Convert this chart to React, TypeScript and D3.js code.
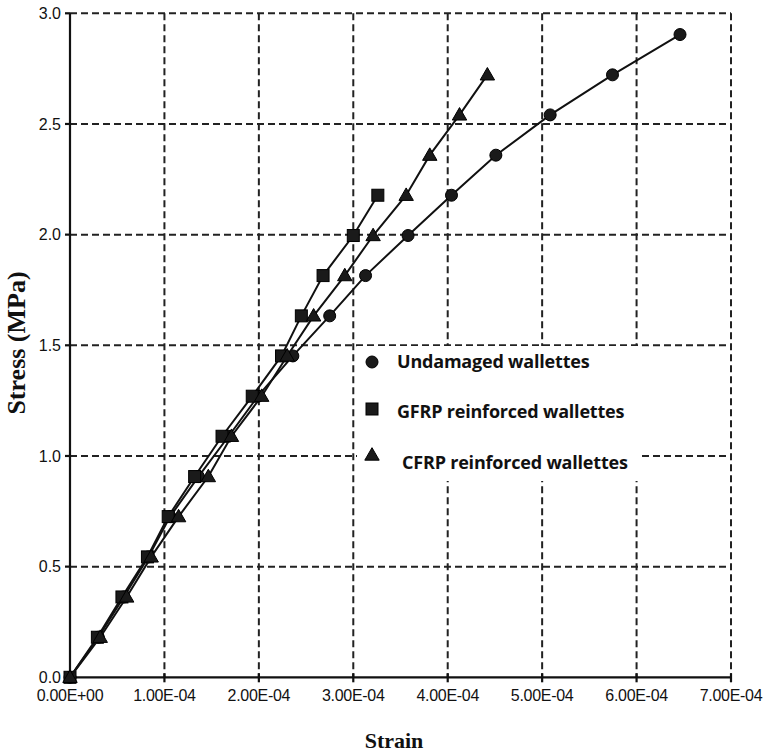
import React from "react";
import * as d3 from "d3";

// Strain values in units of 1E-4, stress in MPa
const undamagedStrain = [0, 0.30, 0.57, 0.83, 1.06, 1.36, 1.68, 1.99, 2.36, 2.75, 3.13, 3.58, 4.04, 4.51, 5.085, 5.745, 6.46];
const undamagedStress = [0, 0.181, 0.363, 0.544, 0.726, 0.907, 1.089, 1.27, 1.452, 1.633, 1.815, 1.996, 2.178, 2.359, 2.541, 2.722, 2.904];
const gfrpStrain = [0, 0.29, 0.55, 0.82, 1.04, 1.32, 1.61, 1.93, 2.24, 2.45, 2.68, 3.00, 3.26];
const gfrpStress = [0, 0.181, 0.363, 0.544, 0.726, 0.907, 1.089, 1.27, 1.452, 1.633, 1.815, 1.996, 2.178];
const cfrpStrain = [0, 0.32, 0.60, 0.86, 1.15, 1.465, 1.71, 2.03, 2.30, 2.58, 2.91, 3.21, 3.56, 3.81, 4.125, 4.42];
const cfrpStress = [0, 0.181, 0.363, 0.544, 0.726, 0.907, 1.089, 1.27, 1.452, 1.633, 1.815, 1.996, 2.178, 2.359, 2.541, 2.722];

const xTicks = [0, 1, 2, 3, 4, 5, 6, 7];
const xTickLabels = ["0.00E+00", "1.00E-04", "2.00E-04", "3.00E-04", "4.00E-04", "5.00E-04", "6.00E-04", "7.00E-04"];
const yTicks = [0, 0.5, 1.0, 1.5, 2.0, 2.5, 3.0];
const seriesNames = ["Undamaged wallettes", "GFRP reinforced wallettes", "CFRP reinforced wallettes"];
const seriesShapes = ["circle", "square", "triangle"];

const W = 764;
const H = 752;

export default function App() {
  const x = d3.scaleLinear().domain([0, 7]).range([70, 731]);
  const y = d3.scaleLinear().domain([0, 3]).range([677.3, 13.3]);

  const series = [
    { name: seriesNames[0], shape: seriesShapes[0], xs: undamagedStrain, ys: undamagedStress },
    { name: seriesNames[1], shape: seriesShapes[1], xs: gfrpStrain, ys: gfrpStress },
    { name: seriesNames[2], shape: seriesShapes[2], xs: cfrpStrain, ys: cfrpStress },
  ];

  const line = d3
    .line<[number, number]>()
    .x((d) => x(d[0]))
    .y((d) => y(d[1]));

  const marker = (shape: string, cx: number, cy: number, key: string | number) => {
    const fill = "#1a1a1a";
    const stroke = "#000";
    if (shape === "circle") {
      return <circle key={key} cx={cx} cy={cy} r={6} fill={fill} stroke={stroke} strokeWidth={1} />;
    }
    if (shape === "square") {
      return <rect key={key} x={cx - 6} y={cy - 6} width={12} height={12} fill={fill} stroke={stroke} strokeWidth={1} />;
    }
    const s = d3.symbol().type(d3.symbolTriangle).size(90)();
    return <path key={key} d={s || ""} transform={`translate(${cx},${cy + 1})`} fill={fill} stroke={stroke} strokeWidth={1} />;
  };

  const dash = "7,4";
  const tickFont = "'Liberation Sans', Arial, sans-serif";

  const legendX = 372;
  const legendYs = [362, 409, 455];
  const legendTextX = [397, 397, 402];
  const legendTextY = [368, 418, 469];

  return (
    <svg width={W} height={H} style={{ display: "block", position: "absolute", left: 0, top: 0, background: "#fff" }}>
      <rect x={0} y={0} width={W} height={H} fill="#fff" />
      {/* gridlines */}
      <g stroke="#222" strokeWidth={2} strokeDasharray={dash} fill="none">
        {yTicks.filter((t) => t > 0).map((t) => (
          <line key={"gy" + t} x1={x(0)} x2={x(7)} y1={y(t)} y2={y(t)} />
        ))}
        {xTicks.filter((t) => t > 0).map((t) => (
          <line key={"gx" + t} x1={x(t)} x2={x(t)} y1={y(3)} y2={y(0)} />
        ))}
      </g>
      {/* legend background */}
      <rect x={357} y={346} width={283} height={135} fill="#fff" />
      {/* axes */}
      <g stroke="#111" strokeWidth={2.2}>
        <line x1={x(0)} x2={x(0)} y1={y(0)} y2={y(3)} />
        <line x1={x(0)} x2={x(7)} y1={y(0)} y2={y(0)} />
        {yTicks.map((t) => (
          <line key={"ty" + t} x1={x(0) - 5} x2={x(0)} y1={y(t)} y2={y(t)} />
        ))}
        {xTicks.map((t) => (
          <line key={"tx" + t} x1={x(t)} x2={x(t)} y1={y(0) - 4} y2={y(0) + 5} />
        ))}
      </g>
      {/* tick labels */}
      <g fontFamily={tickFont} fill="#111">
        {yTicks.map((t) => (
          <text key={"ly" + t} x={61} y={y(t)} dy="0.35em" textAnchor="end" fontSize={16}>
            {t.toFixed(1)}
          </text>
        ))}
        {xTicks.map((t, i) => (
          <text key={"lx" + t} x={x(t)} y={701} textAnchor="middle" fontSize={16} letterSpacing={-0.3}>
            {xTickLabels[i]}
          </text>
        ))}
      </g>
      {/* axis titles */}
      <text x={394} y={748} textAnchor="middle" fontFamily="'Liberation Serif', 'Times New Roman', serif" fontWeight="bold" fontSize={22} fill="#111">
        Strain
      </text>
      <text
        transform="translate(25,343) rotate(-90)"
        textAnchor="middle"
        fontFamily="'Liberation Serif', 'Times New Roman', serif"
        fontWeight="bold"
        fontSize={26}
        fill="#111"
      >
        Stress (MPa)
      </text>
      {/* data */}
      {series.map((s, si) => {
        const pts: [number, number][] = s.xs.map((v, i) => [v, s.ys[i]]);
        return (
          <g key={"s" + si}>
            <path d={line(pts) || ""} fill="none" stroke="#111" strokeWidth={2} />
            {pts.map((p, i) => marker(s.shape, x(p[0]), y(p[1]), i))}
          </g>
        );
      })}
      {/* legend */}
      {series.map((s, i) => (
        <g key={"lg" + i}>
          {marker(s.shape, legendX, legendYs[i], "lm" + i)}
          <text x={legendTextX[i]} y={legendTextY[i]} fontFamily="'Open Sans', Lato, sans-serif" fontWeight="bold" fontSize={18} fill="#111" letterSpacing={-0.2}>
            {s.name}
          </text>
        </g>
      ))}
    </svg>
  );
}
